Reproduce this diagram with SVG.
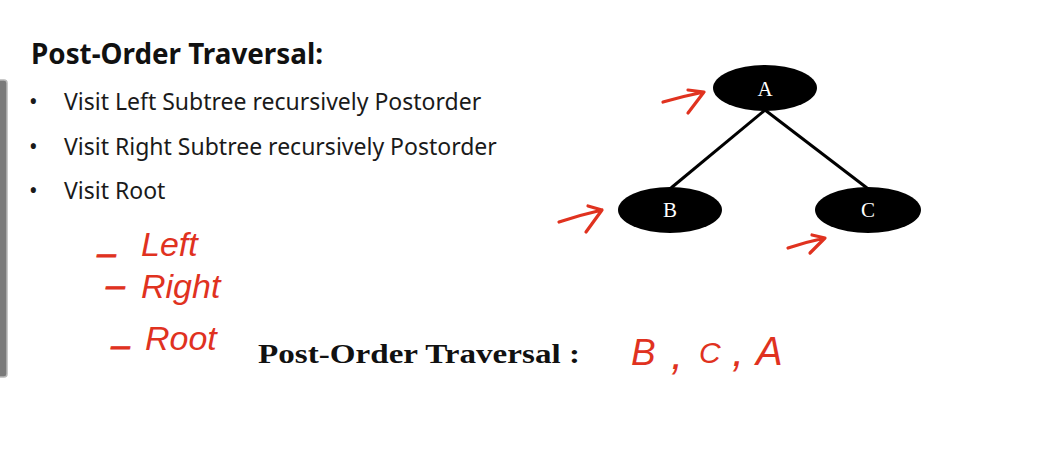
<svg xmlns="http://www.w3.org/2000/svg" width="1064" height="460" viewBox="0 0 1064 460">
  <style>
    .title { font-family: "Noto Sans", "Open Sans", sans-serif; font-weight: bold; font-size: 27.8px; fill: #111; }
    .item { font-family: "Noto Sans", "Open Sans", sans-serif; font-size: 23px; fill: #1a1a1a; }
    .result { font-family: "Liberation Serif", serif; font-weight: bold; font-size: 27px; fill: #111; }
    .label { font-family: "Liberation Serif", serif; font-size: 21px; fill: #fff; text-anchor: middle; }
    .ink { font-family: "Liberation Sans", sans-serif; font-style: italic; fill: #e0321f; }
    .dash { stroke: #e0321f; stroke-width: 0.8; }
    .node { fill: #000; }
    .edge { stroke: #000; stroke-width: 3; fill: none; }
    .pen { stroke: #e0321f; stroke-width: 3.2; fill: none; stroke-linecap: round; stroke-linejoin: round; }
  </style>

  <rect width="1064" height="460" fill="#fff"/>

  <!-- left scroll bar -->
  <rect x="-4" y="80" width="11" height="297" rx="3" fill="#7a7a7a" stroke="#b8b8b8" stroke-width="1.5"/>

  <!-- heading and bullet list -->
  <text class="title" x="31" y="64">Post-Order Traversal:</text>
  <g class="item">
    <text x="29" y="110">•</text>
    <text x="64" y="110">Visit Left Subtree recursively Postorder</text>
    <text x="29" y="155">•</text>
    <text x="64" y="155">Visit Right Subtree recursively Postorder</text>
    <text x="29" y="199">•</text>
    <text x="64" y="199">Visit Root</text>
  </g>

  <!-- handwritten notes -->
  <g class="ink" font-size="34">
    <text x="97" y="264"><tspan class="dash">–</tspan><tspan x="141" y="256">Left</tspan></text>
    <text x="106" y="296"><tspan class="dash">–</tspan><tspan x="141" y="298">Right</tspan></text>
    <text x="111" y="356"><tspan class="dash">–</tspan><tspan x="145" y="350">Root</tspan></text>
  </g>

  <text class="result" x="258" y="363" textLength="322" lengthAdjust="spacingAndGlyphs">Post-Order Traversal :</text>
  <text class="ink" font-size="37"><tspan x="631" y="365">B</tspan><tspan x="671" y="369" font-size="44">,</tspan><tspan x="699" y="363" font-size="30">C</tspan><tspan x="732" y="366" font-size="44">,</tspan><tspan x="756" y="365" font-size="40">A</tspan></text>

  <!-- connectors -->
  <g id="edges">
    <line class="edge" x1="765" y1="110" x2="671" y2="188"/>
    <line class="edge" x1="765" y1="110" x2="867" y2="188"/>
  </g>

  <!-- tree nodes -->
  <g id="node-A">
    <ellipse class="node" cx="765" cy="88" rx="52" ry="23"/>
    <text class="label" x="765" y="96">A</text>
  </g>
  <g id="node-B">
    <ellipse class="node" cx="670" cy="210" rx="52" ry="23"/>
    <text class="label" x="670" y="217">B</text>
  </g>
  <g id="node-C">
    <ellipse class="node" cx="868" cy="210" rx="53" ry="23"/>
    <text class="label" x="868" y="217">C</text>
  </g>

  <!-- pen arrows -->
  <g id="pen-arrows">
    <path class="pen" d="M663 102 Q684 96 704 92 M688 90 L704 92 L688 113"/>
    <path class="pen" d="M559 222 Q580 215 602 210 M588 206 L602 210 L586 232"/>
    <path class="pen" d="M788 248 Q806 242 825 238 M812 235 L825 238 L810 253"/>
  </g>
</svg>
